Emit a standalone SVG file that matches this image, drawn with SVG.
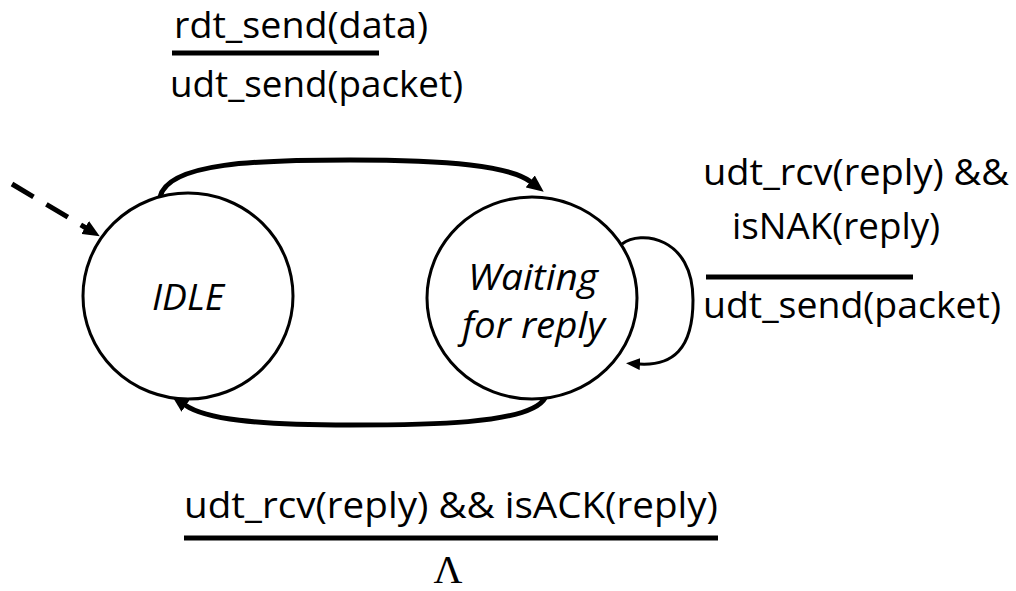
<svg xmlns="http://www.w3.org/2000/svg" width="1016" height="591" viewBox="0 0 1016 591">
<style>
  .lbl { font-family: "Open Sans", "Liberation Sans", sans-serif; font-size: 37px; fill: #000; }
  .st { font-family: "Open Sans", "Liberation Sans", sans-serif; font-size: 36px; font-style: italic; fill: #000; }
  .state { fill: #fff; stroke: #000; stroke-width: 3; }
  .bar { stroke: #000; stroke-width: 5; }
  .edge { fill: none; stroke: #000; stroke-width: 5; }
  .loop { fill: none; stroke: #000; stroke-width: 3; }
</style>
<defs>
  <marker id="ah" markerUnits="userSpaceOnUse" markerWidth="17" markerHeight="15" viewBox="0 0 17 15" refX="1" refY="7.5" orient="auto">
    <path d="M0,0 L17,7.5 L0,15 z" fill="#000"/>
  </marker>
  <marker id="ahs" markerUnits="userSpaceOnUse" markerWidth="14" markerHeight="12" viewBox="0 0 14 12" refX="1" refY="6" orient="auto">
    <path d="M0,0 L14,6 L0,12 z" fill="#000"/>
  </marker>
</defs>
<rect width="1016" height="591" fill="#fff"/>

<g id="connectors">
  <path class="edge" stroke-dasharray="25 15" d="M12,184 L86,228" marker-end="url(#ah)"/>
  <path class="edge" d="M160,197 C168,162 260,160 350,160 C450,160 510,166 531,182" marker-end="url(#ah)"/>
  <path class="edge" d="M545,398 C530,425 420,425 350,425 C255,425 205,419 185,405" marker-end="url(#ah)"/>
  <path class="loop" d="M622,244 C640,230 693,236 693,300 C693,350 672,366 639,364" marker-end="url(#ahs)"/>
</g>

<g id="idle">
  <ellipse class="state" cx="188" cy="296" rx="105" ry="103"/>
  <text class="st" x="152" y="310" textLength="72" lengthAdjust="spacingAndGlyphs">IDLE</text>
</g>

<g id="waiting">
  <ellipse class="state" cx="532" cy="298" rx="105" ry="101"/>
  <text class="st" x="468" y="290" textLength="130" lengthAdjust="spacingAndGlyphs">Waiting</text>
  <text class="st" x="462" y="338" textLength="143" lengthAdjust="spacingAndGlyphs">for reply</text>
</g>

<g id="label-send">
  <text class="lbl" x="174" y="38" textLength="254" lengthAdjust="spacingAndGlyphs">rdt_send(data)</text>
  <line class="bar" x1="172" y1="53" x2="379" y2="53"/>
  <text class="lbl" x="170" y="97" textLength="293" lengthAdjust="spacingAndGlyphs">udt_send(packet)</text>
</g>

<g id="label-nak">
  <text class="lbl" x="703" y="185" textLength="306" lengthAdjust="spacingAndGlyphs">udt_rcv(reply) &amp;&amp;</text>
  <text class="lbl" x="732" y="239" textLength="208" lengthAdjust="spacingAndGlyphs">isNAK(reply)</text>
  <line class="bar" x1="706" y1="277" x2="913" y2="277"/>
  <text class="lbl" x="703" y="318" textLength="298" lengthAdjust="spacingAndGlyphs">udt_send(packet)</text>
</g>

<g id="label-ack">
  <text class="lbl" x="184" y="518" textLength="534" lengthAdjust="spacingAndGlyphs">udt_rcv(reply) &amp;&amp; isACK(reply)</text>
  <line class="bar" x1="184" y1="538" x2="718" y2="538"/>
  <text x="448" y="583" font-family="Liberation Serif, serif" font-size="40" text-anchor="middle">Λ</text>
</g>
</svg>
